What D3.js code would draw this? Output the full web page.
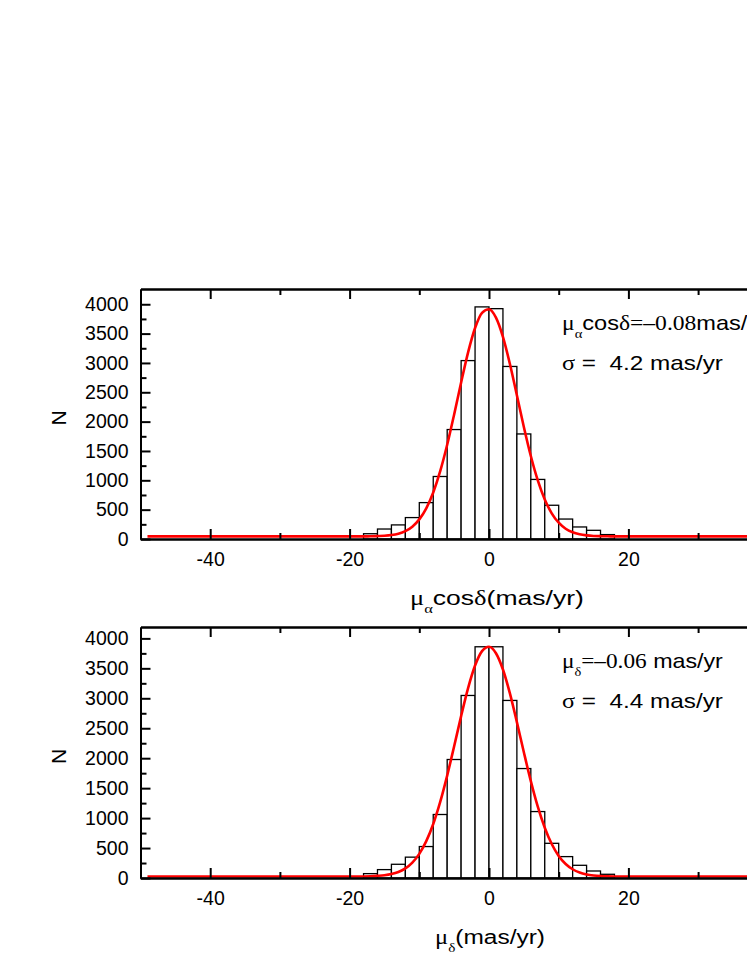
<!DOCTYPE html>
<html><head><meta charset="utf-8">
<script src="https://cdn.jsdelivr.net/npm/d3@7"></script>
<style>body{margin:0;background:#fff;overflow:hidden} svg{display:block} text{white-space:pre}</style>
</head><body>
<script>
// ---------- data ----------
const binStart = [-18,-16,-14,-12,-10,-8,-6,-4,-2,0,2,4,6,8,10,12,14,16];
const binWidth = 2;
const countsRA  = [90,170,240,365,620,1065,1865,3040,3955,3925,2940,1790,1015,575,340,205,148,75];
const countsDec = [73,140,229,348,525,1060,1978,3047,3860,3860,2964,1827,1109,579,357,212,117,62];

const fitX   = [-49,-20,-18,-17,-16,-15,-14,-13,-12,-11,-10,-9,-8,-7,-6,-5,-4,-3,-2,-1,0,1,2,3,4,5,6,7,8,9,10,11,12,13,14,15,16,17,18,20,49];
const fitRA  = [45,45,45,46,50,55,67,91,135,210,334,522,793,1155,1605,2123,2667,3180,3595,3854,3916,3772,3444,2982,2450,1910,1415,999,674,438,277,175,114,80,62,52,48,46,45,45,45];
const fitDec = [25,25,26,28,35,45,65,100,160,257,403,615,902,1270,1710,2199,2702,3169,3546,3787,3860,3752,3480,3081,2602,2099,1617,1190,839,567,369,234,146,91,60,43,33,28,26,25,25];

const xDomain = [-50, 50];
const xMajorTicks = [-40,-20,0,20];
const xMinorTicks = [-30,-10,10,30];
const yMajorTicks = [0,500,1000,1500,2000,2500,3000,3500,4000];
const yMinorTicks = [250,750,1250,1750,2250,2750,3250,3750];
const yMaxRA = 4260, yMaxDec = 4190;
const yLabel = "N";

// ---------- drawing ----------
const SANS = "'Liberation Sans', Arial, Helvetica, sans-serif";
const SERIF = "'Liberation Serif', 'Times New Roman', serif";
const W = 747, H = 967;
const svg = d3.select("body").append("svg").attr("width", W).attr("height", H);

function rich(g, parts, size, x, y, opts) {
  const t = g.append("text").attr("font-size", size).attr("fill", "#000");
  let prevSub = false;
  parts.forEach(p => {
    const ts = t.append("tspan").text(p.t).attr("font-family", p.serif ? SERIF : SANS);
    if (p.sub) { ts.attr("font-size", size * 0.62).attr("dy", size * 0.4); prevSub = true; }
    else if (prevSub) { ts.attr("dy", -size * 0.4); prevSub = false; }
  });
  const w = t.node().getComputedTextLength();
  const s = opts.target ? opts.target / w : (opts.scale || 1);
  const x0 = opts.anchor === "middle" ? x - w * s / 2 : x;
  t.attr("transform", `translate(${x0},${y}) scale(${s},1)`);
  return s;
}

function panel(cfg) {
  const x = d3.scaleLinear().domain(xDomain).range([140.5, 837.5]);
  const y = d3.scaleLinear().domain([0, cfg.yMax]).range([cfg.bottom, cfg.top]);
  const g = svg.append("g");

  // bars
  g.selectAll("rect.bar").data(binStart.map((s, i) => ({lo: s, hi: s + binWidth, c: cfg.counts[i]})))
    .join("rect").attr("class", "bar")
    .attr("x", d => x(d.lo)).attr("width", d => x(d.hi) - x(d.lo))
    .attr("y", d => y(d.c)).attr("height", d => y(0) - y(d.c))
    .attr("fill", "#fff").attr("stroke", "#000").attr("stroke-width", 1.3);

  // fit curve
  const line = d3.line().x((d, i) => x(fitX[i])).y(d => y(d)).curve(d3.curveMonotoneX);
  g.append("path").attr("d", line(cfg.fit)).attr("fill", "none")
    .attr("stroke", "#ff0000").attr("stroke-width", 2.6);

  const fmt = d => String(d);
  const style = sel => {
    sel.selectAll(".domain").attr("stroke", "#000").attr("stroke-width", 2);
    sel.selectAll(".tick line").attr("stroke", "#000").attr("stroke-width", 2);
    sel.selectAll("text").attr("font-family", SANS).attr("font-size", 19.5).attr("fill", "#000");
  };
  // bottom axis
  g.append("g").attr("transform", `translate(0,${cfg.bottom})`)
    .call(d3.axisBottom(x).tickValues(xMajorTicks).tickFormat(fmt).tickSize(-10).tickSizeOuter(0).tickPadding(13))
    .call(style);
  g.append("g").attr("transform", `translate(0,${cfg.bottom})`)
    .call(d3.axisBottom(x).tickValues(xMinorTicks).tickFormat("").tickSize(-6).tickSizeOuter(0))
    .call(style);
  // top axis
  g.append("g").attr("transform", `translate(0,${cfg.top})`)
    .call(d3.axisTop(x).tickValues(xMajorTicks).tickFormat("").tickSize(-10).tickSizeOuter(0))
    .call(style);
  g.append("g").attr("transform", `translate(0,${cfg.top})`)
    .call(d3.axisTop(x).tickValues(xMinorTicks).tickFormat("").tickSize(-6).tickSizeOuter(0))
    .call(style);
  // left axis
  g.append("g").attr("transform", `translate(140.5,0)`)
    .call(d3.axisLeft(y).tickValues(yMajorTicks).tickFormat(fmt).tickSize(-10).tickSizeOuter(0).tickPadding(12))
    .call(style);
  g.append("g").attr("transform", `translate(140.5,0)`)
    .call(d3.axisLeft(y).tickValues(yMinorTicks).tickFormat("").tickSize(-6).tickSizeOuter(0))
    .call(style);
  // right spine (off-screen)
  g.append("line").attr("x1", 837.5).attr("x2", 837.5).attr("y1", cfg.top).attr("y2", cfg.bottom)
    .attr("stroke", "#000").attr("stroke-width", 2);

  // y label
  g.append("text").text(yLabel).attr("font-family", SANS).attr("font-size", 21)
    .attr("text-anchor", "middle")
    .attr("transform", `translate(66,${(cfg.top + cfg.bottom) / 2 + 4}) rotate(-90)`);

  // x title
  rich(g, cfg.title, 21, cfg.titleCx, cfg.bottom + 66, {target: cfg.titleW, anchor: "middle"});

  // annotations
  const s = rich(g, cfg.ann2, 20.5, 562, cfg.top + 81, {target: 161});
  rich(g, cfg.ann1, 20.5, 562, cfg.top + 41, cfg.ann1Target ? {target: cfg.ann1Target} : {scale: s * 0.97});
}

panel({
  counts: countsRA, fit: fitRA, yMax: yMaxRA, top: 289, bottom: 539,
  title: [{t: "μ", serif: true}, {t: "α", serif: true, sub: true}, {t: "cos"}, {t: "δ", serif: true}, {t: "(mas/yr)"}],
  titleCx: 497, titleW: 174,
  ann1: [{t: "μ", serif: true}, {t: "α", serif: true, sub: true}, {t: "cos"}, {t: "δ=–0.08", serif: true}, {t: "mas/yr"}],
  ann2: [{t: "σ", serif: true}, {t: " =  4.2 mas/yr"}]
});
panel({
  counts: countsDec, fit: fitDec, yMax: yMaxDec, top: 627, bottom: 878,
  title: [{t: "μ", serif: true}, {t: "δ", serif: true, sub: true}, {t: "(mas/yr)"}],
  titleCx: 490, titleW: 110,
  ann1: [{t: "μ", serif: true}, {t: "δ", serif: true, sub: true}, {t: "=–0.06", serif: true}, {t: " mas/yr"}],
  ann1Target: 161,
  ann2: [{t: "σ", serif: true}, {t: " =  4.4 mas/yr"}]
});
</script>
</body></html>
